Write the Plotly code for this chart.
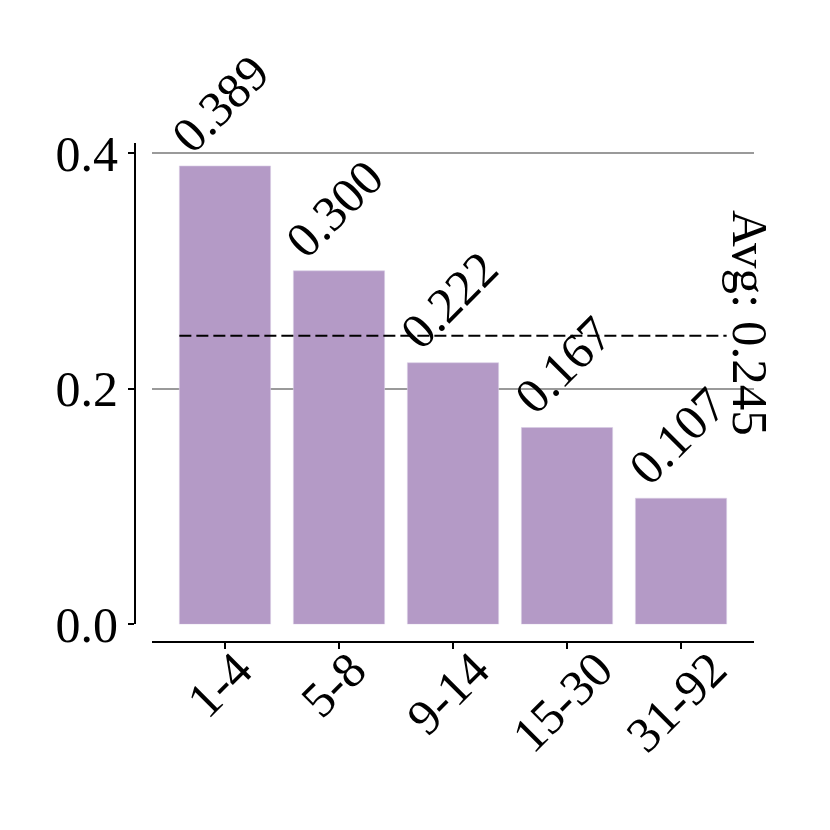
import plotly.graph_objects as go

categories = ["1-4", "5-8", "9-14", "15-30", "31-92"]
values = [0.389, 0.300, 0.222, 0.167, 0.107]
avg_value = 0.245
y_ticks = [0.0, 0.2, 0.4]
y_tick_labels = ["0.0", "0.2", "0.4"]

FONT = "Liberation Serif"
FS = 50
BAR_COLOR = "#b49ac6"

xs = list(range(len(categories)))

fig = go.Figure()
fig.add_trace(go.Bar(
    x=xs, y=values, width=0.8,
    marker=dict(color=BAR_COLOR, line=dict(color="#d9cce4", width=0.6)),
    hoverinfo="skip",
))

# average line
fig.add_trace(go.Scatter(
    x=[xs[0] - 0.4, xs[-1] + 0.4], y=[avg_value, avg_value],
    mode="lines", line=dict(color="black", width=2, dash="12px,5px"),
    hoverinfo="skip",
))

annotations = []
for x, v in zip(xs, values):
    annotations.append(dict(
        x=x, y=v, xref="x", yref="y", text=f"{v:.3f}", showarrow=False,
        textangle=-45, xanchor="center", yanchor="bottom", yshift=0, xshift=-4,
        font=dict(family=FONT, size=FS, color="black"),
    ))
for x, c in zip(xs, categories):
    annotations.append(dict(
        x=x, y=0, xref="x", yref="paper", text=c, showarrow=False,
        textangle=-45, xanchor="center", yanchor="top", yshift=4, xshift=-5,
        font=dict(family=FONT, size=FS, color="black"),
    ))
annotations.append(dict(
    x=xs[-1] + 0.4, y=avg_value, xref="x", yref="y", text=f"Avg: {avg_value:.3f}",
    showarrow=False, textangle=90, xanchor="left", yanchor="middle",
    xshift=-6, yshift=13,
    font=dict(family=FONT, size=FS + 1, color="black"),
))

W, H = 830, 830
OFF = 8  # page body margin
L, R, T, B = 135 - OFF, 76 + OFF, 143 - OFF, 188 + OFF
pw = W - L - R
ph = H - T - B

fig.update_layout(
    width=W, height=H,
    margin=dict(l=L, r=R, t=T, b=B, pad=0),
    paper_bgcolor="white", plot_bgcolor="white",
    showlegend=False,
    bargap=0.2,
    annotations=annotations,
    font=dict(family=FONT, size=FS, color="black"),
    xaxis=dict(
        domain=[(152 - 135) / pw, 1],
        range=[-0.64, 4.64],
        anchor="free", position=0,
        tickmode="array", tickvals=xs, ticktext=categories,
        showticklabels=False,
        ticks="outside", ticklen=6, tickwidth=1.5, tickcolor="black",
        showline=True, linecolor="black", linewidth=1.8,
        showgrid=False, zeroline=False,
    ),
    yaxis=dict(
        domain=[(642 - 624.3) / ph, 1],
        range=[0, 0.4085],
        anchor="free", position=0,
        tickmode="array", tickvals=y_ticks, ticktext=y_tick_labels,
        ticks="outside", ticklen=6, tickwidth=1.5, tickcolor="black",
        showline=True, linecolor="black", linewidth=1.8,
        showgrid=True, gridcolor="#9a9a9a", gridwidth=1.5,
        zeroline=False,
        tickfont=dict(family=FONT, size=FS, color="black"),
    ),
)

fig.write_html("out.html")
